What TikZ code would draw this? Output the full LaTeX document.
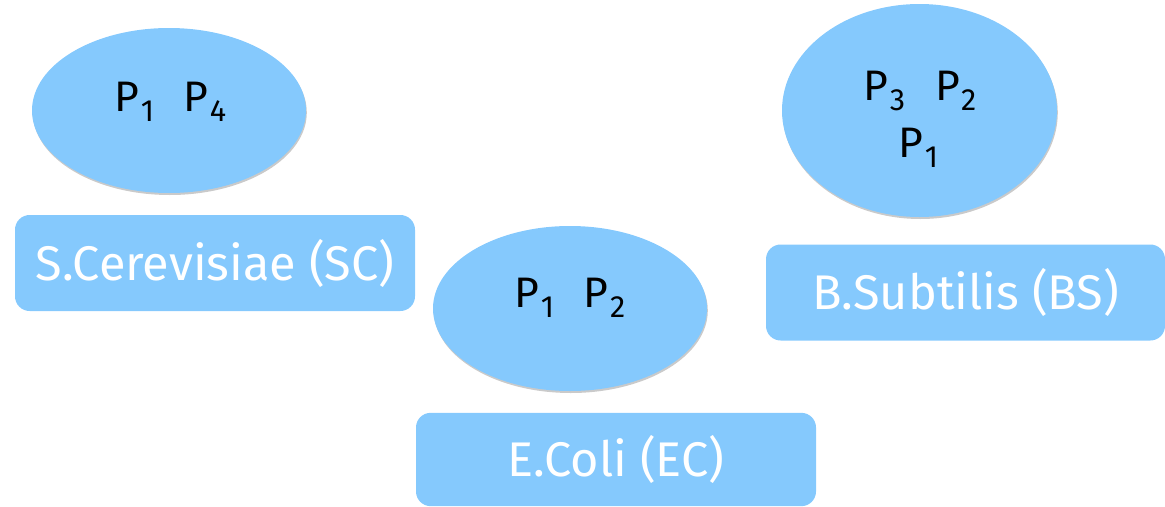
\documentclass[tikz,border=0pt]{standalone}
\usepackage{fontspec}
\setmainfont{Fira Sans}
\usetikzlibrary{shapes.geometric,shadows}
\definecolor{cellblue}{RGB}{133,201,253}
% protein label with a large, low subscript
\newcommand{\prot}[1]{P\kern0.03em\raisebox{-7.5pt}{\fontsize{23}{23}\selectfont #1}}
\begin{document}
\begin{tikzpicture}[x=0.75pt,y=-0.75pt,
  cell/.style={ellipse,fill=cellblue,draw=none,inner sep=0pt,
    drop shadow={shadow xshift=0.6pt,shadow yshift=-1.5pt,opacity=0.35,fill=black!60}},
  species/.style={rectangle,rounded corners=11pt,fill=cellblue,draw=none,
    inner sep=0pt,text=white,font=\fontsize{36.5}{40}\selectfont},
  plabel/.style={anchor=base,inner sep=0pt,font=\fontsize{32}{34}\selectfont}]
\useasboundingbox (0,0) rectangle (1165,507);

% S. cerevisiae
\node[cell,minimum width=205.5pt,minimum height=123.75pt] (scell) at (169,110.5) {};
\node[plabel] (sctext) at (170.5,111) {\prot{1}\hspace{0.7em}\prot{4}};
\node[species,minimum width=300pt,minimum height=72pt] (sc) at (215,263) {S.Cerevisiae (SC)};

% E. coli
\node[cell,minimum width=205.5pt,minimum height=123.75pt] (ecell) at (570,308.5) {};
\node[plabel] (ectext) at (570,307) {\prot{1}\hspace{0.7em}\prot{2}};
\node[species,minimum width=300pt,minimum height=70pt] (ec) at (616,459.5) {E.Coli (EC)};

% B. subtilis
\node[cell,minimum width=206.25pt,minimum height=159.75pt] (bcell) at (919.5,110.5) {};
\node[plabel] (bstext) at (920,100) {\prot{3}\hspace{0.7em}\prot{2}};
\node[plabel] (bstext1) at (918.5,157) {\prot{1}};
\node[species,minimum width=299.25pt,minimum height=72pt] (bs) at (965.5,292.5) {B.Subtilis (BS)};
\end{tikzpicture}
\end{document}
